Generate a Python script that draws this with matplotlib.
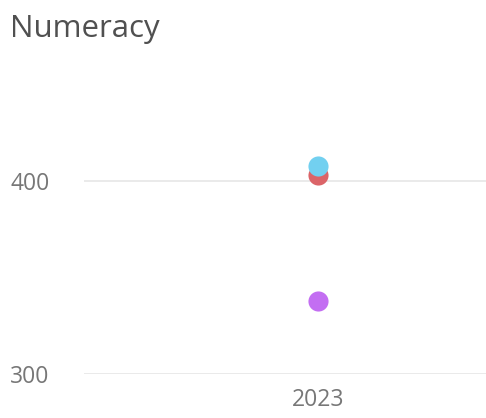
import matplotlib.pyplot as plt

# data
years = ["2023"]
series_names = ["purple", "red", "cyan"]
series_values = [[338], [403], [408]]
series_colors = ["#C36EF2", "#DB6468", "#72D0F0"]
y_ticks = [300, 400]

fig = plt.figure(figsize=(4.86, 4.18), dpi=100)
ax = fig.add_axes([0.173, 0.105, 0.827, 0.67])

for name, vals, col in zip(series_names, series_values, series_colors):
    ax.scatter(range(len(years)), vals, s=210, color=col, zorder=3, linewidths=0)

ax.set_ylim(300, 445)
ax.set_xlim(-0.582, 0.418)
ax.set_yticks(y_ticks)
ax.set_xticks(range(len(years)))
ax.set_xticklabels(years)

ax.grid(axis="y", color="#E6E6E6", linewidth=1.2, zorder=0)
for s in ax.spines.values():
    s.set_visible(False)
ax.tick_params(length=0, labelsize=16.5, labelcolor="#777777")
ax.tick_params(axis="y", pad=25)
ax.tick_params(axis="x", pad=10)
for lbl in ax.get_xticklabels() + ax.get_yticklabels():
    lbl.set_fontfamily("Open Sans")

fig.text(0.02, 0.93, "Numeracy", fontsize=22.5, color="#505050",
         family="Open Sans", ha="left", va="center")

fig.savefig("out.png", dpi=100)
